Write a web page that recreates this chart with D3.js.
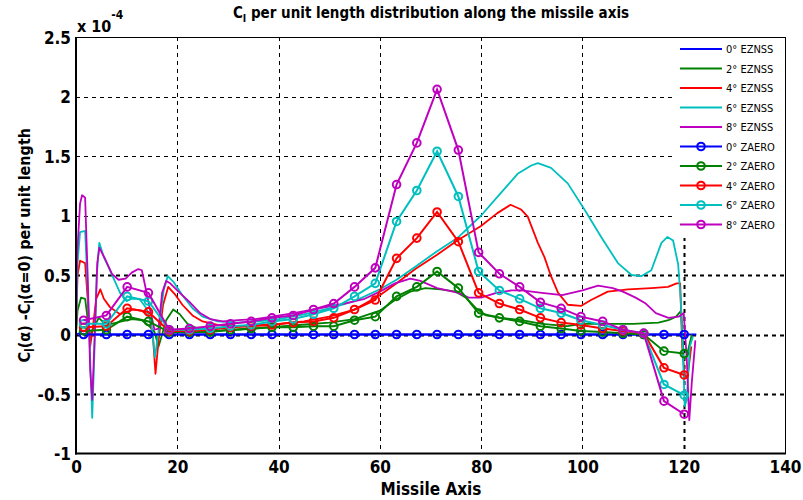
<!DOCTYPE html>
<html><head><meta charset="utf-8">
<script src="https://cdn.jsdelivr.net/npm/d3@7/dist/d3.min.js"></script>
<style>
body{margin:0;background:#fff}
text{font-family:"Liberation Sans Narrow","DejaVu Sans Condensed","Liberation Sans",sans-serif}
</style>
</head><body><svg id="c" width="803" height="500"></svg>
<script>
// ---------- data (y values in units of 1e-4) ----------
const xTicks = [0, 20, 40, 60, 80, 100, 120, 140];
const yTicks = [-1, -0.5, 0, 0.5, 1, 1.5, 2, 2.5];
const angles = ["0°", "2°", "4°", "6°", "8°"];

const eznss0 = [[0,0],[0.6,0.01],[2,0],[30,0],[60,0],[90,0],[122.5,0]];
const eznss2 = [[0,0],[0.3,0.2],[1,0.31],[1.8,0.3],[2.4,0.1],[2.8,-0.02],[3.4,0.05],[4.5,0.14],[5.5,0.1],[7,0.09],[9,0.11],[11,0.13],[13,0.12],[14.5,0.07],[15.5,0.02],[16.3,-0.1],[17,0],[17.8,0.12],[19.2,0.21],[20.5,0.17],[22,0.09],[24,0.05],[27,0.03],[32,0.04],[38,0.06],[44,0.08],[50,0.1],[55,0.13],[60,0.2],[63,0.29],[66,0.36],[69,0.39],[72,0.38],[75,0.36],[77,0.31],[79,0.22],[81,0.16],[84,0.14],[88,0.12],[92,0.09],[97,0.07],[100,0.09],[105,0.09],[110,0.09],[115,0.1],[117,0.12],[118.5,0.15],[119.5,0.2],[120,-0.21],[120.6,-0.18],[121.6,0]];
const eznss4 = [[0,0],[0.3,0.5],[0.8,0.62],[1.8,0.6],[2.3,0.3],[2.8,-0.1],[3.3,0.05],[4,0.3],[4.8,0.38],[5.5,0.3],[6.7,0.23],[8.7,0.17],[10,0.19],[11.3,0.21],[13,0.2],[14.5,0.15],[15.2,-0.02],[15.7,-0.33],[16.3,-0.05],[17.2,0.25],[18.2,0.4],[19.5,0.34],[21,0.25],[23,0.16],[25,0.11],[28,0.08],[32,0.07],[36,0.08],[40,0.09],[45,0.11],[50,0.15],[55,0.21],[60,0.33],[63.3,0.43],[67,0.55],[71.3,0.67],[75.3,0.79],[79.9,0.91],[83.2,1.02],[85.8,1.09],[87.9,1.05],[89.2,0.99],[91.2,0.77],[92.5,0.65],[93.8,0.49],[95.2,0.35],[97.1,0.25],[99.7,0.24],[101.7,0.29],[105,0.36],[109,0.38],[113.6,0.39],[116.9,0.4],[118.6,0.43],[119.3,0.43],[119.7,-0.1],[120.2,-0.36],[120.8,-0.34],[121.5,-0.1]];
const eznss6 = [[0,0],[0.3,0.6],[0.8,0.86],[1.8,0.87],[2.4,0.3],[3.2,-0.7],[3.6,-0.2],[4.1,0.5],[4.6,0.77],[5.5,0.65],[6.7,0.54],[8.7,0.35],[10,0.28],[11,0.3],[12.5,0.3],[13.9,0.22],[14.9,0.09],[15.6,-0.19],[16.3,0.03],[17.3,0.37],[18.1,0.49],[19.3,0.44],[21,0.33],[23,0.22],[25,0.15],[28,0.11],[32,0.1],[36,0.11],[40,0.13],[45,0.17],[50,0.22],[55,0.28],[60,0.38],[63.3,0.46],[67,0.57],[71.3,0.7],[75.3,0.81],[80,1.0],[83.9,1.19],[87.2,1.35],[89.9,1.42],[91.2,1.44],[93.8,1.4],[97.1,1.27],[100.4,1.05],[103.7,0.82],[107,0.6],[109.7,0.5],[111.6,0.49],[113.6,0.54],[115.6,0.77],[116.8,0.82],[117.9,0.79],[118.9,0.59],[119.4,0.3],[119.8,-0.1],[120.2,-0.6],[120.6,-0.55],[121.2,-0.1],[121.8,-0.02]];
const eznss8 = [[0,0],[0.2,0.65],[0.8,1.1],[1.2,1.17],[1.8,1.15],[2.3,0.5],[2.8,-0.3],[3.2,-0.55],[3.7,0],[4.2,0.6],[4.6,0.73],[5.8,0.63],[7.1,0.51],[8.4,0.46],[9.8,0.47],[11,0.52],[12.3,0.55],[13,0.54],[13.6,0.42],[14.5,0.23],[15.5,0.04],[16.3,0.05],[17,0.35],[17.8,0.45],[18.6,0.43],[20.5,0.35],[22.5,0.27],[24.5,0.18],[26.5,0.13],[29,0.11],[32,0.12],[35.4,0.13],[38.7,0.15],[43,0.18],[48,0.22],[53,0.26],[57,0.3],[60,0.36],[63,0.43],[66,0.47],[68,0.45],[71.3,0.39],[75.5,0.35],[77.5,0.31],[80,0.31],[83,0.35],[86,0.37],[88,0.37],[92,0.35],[96,0.33],[100,0.37],[103.1,0.41],[106,0.39],[108,0.36],[110.5,0.31],[112.5,0.26],[114.5,0.18],[117,0.14],[119,0.15],[120,0.18],[120.6,-0.2],[121.1,-0.72],[121.6,-0.4],[122.3,-0.05]];

const zaeroX = [1.5,6.0,10.1,14.3,18.4,22.4,26.5,30.5,34.6,38.7,42.9,46.9,50.9,55.0,59.1,63.3,67.3,71.3,75.5,79.5,83.6,87.6,91.7,95.8,99.7,104.0,108.0,112.1,116.1,120.1];
const zaero0 = [0,0,0,0,0,0,0,0,0,0,0,0,0,0,0,0,0,0,0,0,0,0,0,0,0,0,0,0,0,0];
const zaero2 = [0.03,0.04,0.15,0.11,0.02,0.02,0.02,0.04,0.05,0.06,0.06,0.07,0.07,0.12,0.15,0.32,0.40,0.53,0.39,0.18,0.14,0.11,0.07,0.05,0.03,0.02,0.01,0.0,-0.14,-0.16];
const zaero4 = [0.06,0.07,0.22,0.19,0.03,0.03,0.04,0.06,0.07,0.08,0.10,0.11,0.14,0.21,0.29,0.64,0.81,1.03,0.78,0.35,0.26,0.21,0.14,0.10,0.08,0.05,0.03,0.01,-0.28,-0.34];
const zaero6 = [0.09,0.09,0.32,0.28,0.04,0.04,0.05,0.07,0.08,0.11,0.13,0.17,0.22,0.32,0.43,0.95,1.21,1.54,1.16,0.53,0.37,0.30,0.22,0.18,0.12,0.08,0.04,0.01,-0.42,-0.51];
const zaero8 = [0.12,0.16,0.40,0.35,0.04,0.05,0.07,0.09,0.11,0.14,0.16,0.21,0.26,0.40,0.56,1.26,1.61,2.06,1.55,0.69,0.51,0.40,0.27,0.22,0.15,0.11,0.04,0.01,-0.56,-0.67];

// ---------- styles ----------
const colors = ["#0000ff", "#008000", "#ff0000", "#00bfbf", "#bf00bf"];

const svg = d3.select("#c");
const L = 76, R = 785, T = 37, B = 453.5;
const x = d3.scaleLinear().domain([0, 140]).range([L, R]);
const y = d3.scaleLinear().domain([-1, 2.5]).range([B, T]);

// grid
const thickY = new Set([0.5, 0, -0.5]);
svg.append("g").selectAll("line").data(yTicks.filter(v => v > -1 && v < 2.5)).join("line")
  .attr("x1", L).attr("x2", R).attr("y1", d => Math.round(y(d)) + 0.5).attr("y2", d => Math.round(y(d)) + 0.5)
  .attr("stroke", "#000").attr("stroke-width", d => thickY.has(d) ? 2 : 1).attr("stroke-dasharray", "4,4");
svg.append("g").selectAll("line").data(xTicks.filter(v => v > 0 && v < 140)).join("line")
  .attr("y1", T).attr("y2", B).attr("x1", d => Math.round(x(d)) + 0.5).attr("x2", d => Math.round(x(d)) + 0.5)
  .attr("stroke", "#000").attr("stroke-width", d => d === 120 ? 2 : 1).attr("stroke-dasharray", "4,4");

const line = d3.line().x(d => x(d[0])).y(d => y(d[1]));
const ez = [eznss0, eznss2, eznss4, eznss6, eznss8];
const za = [zaero0, zaero2, zaero4, zaero6, zaero8];

const plot = svg.append("g");
ez.forEach((s, i) => {
  plot.append("path").attr("d", line(s)).attr("fill", "none")
    .attr("stroke", colors[i]).attr("stroke-width", 1.8).attr("stroke-linejoin", "round");
});
za.forEach((s, i) => {
  const pts = zaeroX.map((xv, k) => [xv, s[k]]);
  const g = plot.append("g");
  g.append("path").attr("d", line(pts)).attr("fill", "none")
    .attr("stroke", colors[i]).attr("stroke-width", 2);
  g.selectAll("circle").data(pts).join("circle")
    .attr("cx", d => x(d[0])).attr("cy", d => y(d[1])).attr("r", 3.8)
    .attr("fill", "none").attr("stroke", colors[i]).attr("stroke-width", 2);
});

// axes frame
svg.append("line").attr("x1", L).attr("x2", R).attr("y1", T + 0.5).attr("y2", T + 0.5).attr("stroke", "#000");
svg.append("line").attr("x1", R + 0.5).attr("x2", R + 0.5).attr("y1", T).attr("y2", B).attr("stroke", "#000");
svg.append("line").attr("x1", L).attr("x2", L).attr("y1", T).attr("y2", B + 1).attr("stroke", "#000").attr("stroke-width", 2);
svg.append("line").attr("x1", L - 1).attr("x2", R + 1).attr("y1", B).attr("y2", B).attr("stroke", "#000").attr("stroke-width", 2);

// axes (labels only)
const fmt = d => String(d);
const ax = svg.append("g").attr("transform", `translate(0,${B})`)
  .call(d3.axisBottom(x).tickValues(xTicks).tickFormat(fmt).tickSize(0).tickPadding(7));
const ay = svg.append("g").attr("transform", `translate(${L},0)`)
  .call(d3.axisLeft(y).tickValues(yTicks).tickFormat(fmt).tickSize(0).tickPadding(5));
[ax, ay].forEach(a => {
  a.select(".domain").remove();
  a.selectAll("text").attr("font-family", '"Liberation Sans Narrow","DejaVu Sans Condensed",sans-serif')
    .attr("font-size", 17).attr("font-weight", "bold").attr("fill", "#000");
});
ay.selectAll("text").attr("dy", "0.36em");

// exponent
const ex = svg.append("text").attr("x", L + 1).attr("y", 32).attr("font-size", 16).attr("font-weight", "bold");
ex.append("tspan").text("x 10");
ex.append("tspan").attr("dy", -13).attr("font-size", 12).text("-4");

// title
const t = svg.append("text").attr("x", 431).attr("y", 18).attr("text-anchor", "middle")
  .attr("font-size", 15).attr("font-weight", "bold");
t.append("tspan").text("C");
t.append("tspan").attr("dy", 4).attr("font-size", 11).text("l");
t.append("tspan").attr("dy", -4).text(" per unit length distribution along the missile axis");

// x label
svg.append("text").attr("x", 431).attr("y", 495).attr("text-anchor", "middle")
  .attr("font-size", 17).attr("font-weight", "bold").text("Missile Axis");

// y label
const yl = svg.append("text").attr("transform", `translate(30,${(T + B) / 2}) rotate(-90)`)
  .attr("text-anchor", "middle").attr("font-size", 16).attr("font-weight", "bold");
yl.append("tspan").text("C");
yl.append("tspan").attr("dy", 4).attr("font-size", 12).text("l");
yl.append("tspan").attr("dy", -4).text("(α) -C");
yl.append("tspan").attr("dy", 4).attr("font-size", 12).text("l");
yl.append("tspan").attr("dy", -4).text("(α=0) per unit length");

// legend
const lg = svg.append("g");
lg.append("rect").attr("x", 672).attr("y", T + 1).attr("width", R - 672).attr("height", 200).attr("fill", "#fff");
const entries = [];
angles.forEach((a, i) => entries.push({ label: a + " EZNSS", c: colors[i], m: false }));
angles.forEach((a, i) => entries.push({ label: a + " ZAERO", c: colors[i], m: true }));
entries.forEach((e, i) => {
  const yy = 49 + i * 19.5;
  lg.append("line").attr("x1", 680).attr("x2", 722).attr("y1", yy).attr("y2", yy)
    .attr("stroke", e.c).attr("stroke-width", 2);
  if (e.m) lg.append("circle").attr("cx", 701).attr("cy", yy).attr("r", 3.8)
    .attr("fill", "none").attr("stroke", e.c).attr("stroke-width", 2);
  lg.append("text").attr("x", 726).attr("y", yy + 4).attr("font-size", 11).text(e.label);
});
</script>
</body></html>
